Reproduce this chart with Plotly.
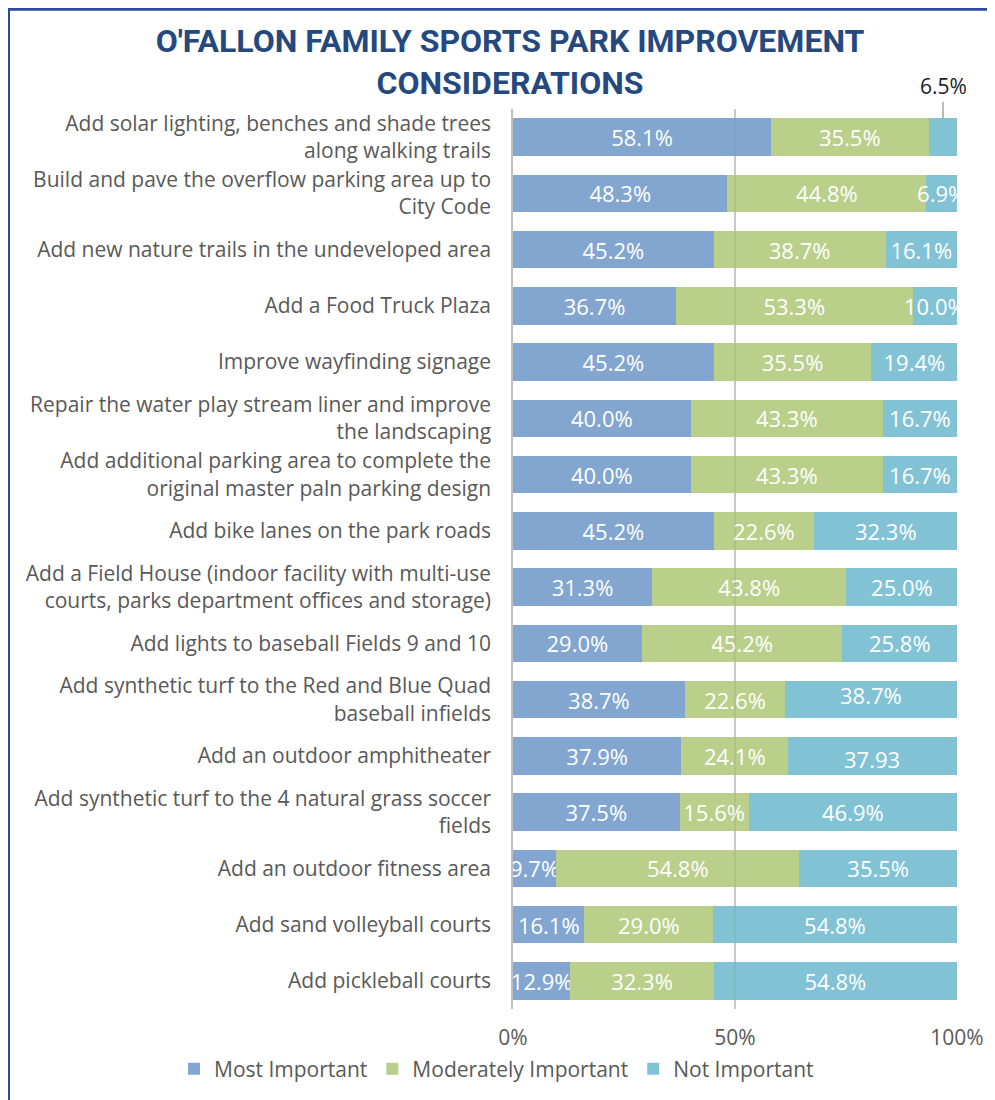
import plotly.graph_objects as go

categories = [
    "Add solar lighting, benches and shade trees<br>along walking trails",
    "Build and pave the overflow parking area up to<br>City Code",
    "Add new nature trails in the undeveloped area",
    "Add a Food Truck Plaza",
    "Improve wayfinding signage",
    "Repair the water play stream liner and improve<br>the landscaping",
    "Add additional parking area to complete the<br>original master paln parking design",
    "Add bike lanes on the park roads",
    "Add a Field House (indoor facility with multi-use<br>courts, parks department offices and storage)",
    "Add lights to baseball Fields 9 and 10",
    "Add synthetic turf to the Red and Blue Quad<br>baseball infields",
    "Add an outdoor amphitheater",
    "Add synthetic turf to the 4 natural grass soccer<br>fields",
    "Add an outdoor fitness area",
    "Add sand volleyball courts",
    "Add pickleball courts",
]
most_important = [58.1, 48.3, 45.2, 36.7, 45.2, 40.0, 40.0, 45.2, 31.3, 29.0, 38.7, 37.9, 37.5, 9.7, 16.1, 12.9]
moderately_important = [35.5, 44.8, 38.7, 53.3, 35.5, 43.3, 43.3, 22.6, 43.8, 45.2, 22.6, 24.1, 15.6, 54.8, 29.0, 32.3]
not_important = [6.5, 6.9, 16.1, 10.0, 19.4, 16.7, 16.7, 32.3, 25.0, 25.8, 38.7, 37.93, 46.9, 35.5, 54.8, 54.8]
series_names = ["Most Important", "Moderately Important", "Not Important"]
tick_vals = [0, 50, 100]
tick_text = ["0%", "50%", "100%"]
title_text = "O'FALLON FAMILY SPORTS PARK IMPROVEMENT<br>CONSIDERATIONS"

colors = ["#82A6CF", "#B9CF8A", "#81C3D5"]
# page body has an 8px margin, so the figure is sized to the visible area
W, H = 987, 1092
ML, MR, MT, MB = 505, 38, 101, 91
FONT = "Open Sans"

def fmt(v):
    s = f"{v:.2f}"
    if s.endswith("0"):
        return f"{v:.1f}%"
    return s

outside_idx = 0
shifted = {10: 5, 11: -3}

fig = go.Figure()
series = [most_important, moderately_important, not_important]
for si, (name, vals, col) in enumerate(zip(series_names, series, colors)):
    texts = [fmt(v) for v in vals]
    if si == 2:
        texts = ["" if (i == outside_idx or i in shifted) else t for i, t in enumerate(texts)]
    fig.add_trace(go.Bar(
        y=categories, x=vals, name=name, orientation="h",
        marker=dict(color=col, line=dict(width=0)),
        text=texts, textposition="inside", insidetextanchor="middle",
        constraintext="none", textangle=0,
        textfont=dict(color="white", size=22, family=FONT),
        hoverinfo="skip",
    ))

cum0 = most_important[outside_idx] + moderately_important[outside_idx]
fig.add_annotation(
    x=cum0 + not_important[outside_idx] / 2, y=categories[outside_idx],
    xref="x", yref="y", text=fmt(not_important[outside_idx]),
    showarrow=True, arrowhead=0, arrowwidth=1.5, arrowcolor="#A6A6A6",
    ax=0, ay=-51, standoff=19,
    font=dict(size=21, color="#222222", family=FONT),
)
for i, dy in shifted.items():
    cum = most_important[i] + moderately_important[i]
    fig.add_annotation(
        x=cum + not_important[i] / 2, y=categories[i], xref="x", yref="y",
        text=fmt(not_important[i]), showarrow=False, yshift=dy,
        font=dict(size=22, color="white", family=FONT),
    )

fig.add_shape(type="line", xref="x", yref="paper", x0=50, x1=50, y0=0, y1=1,
              line=dict(color="rgba(140,140,140,0.25)", width=1.5), layer="above")

pw, ph = W - ML - MR, H - MT - MB
def px2x(px):
    return (px - ML) / pw
def py2y(py):
    return (H - MB - py) / ph
frame_col = "#2E4A9B"
fig.add_shape(type="line", xref="paper", yref="paper", x0=px2x(-2), x1=px2x(W + 5),
              y0=py2y(1.2), y1=py2y(1.2), line=dict(color=frame_col, width=3))
fig.add_shape(type="line", xref="paper", yref="paper", x0=px2x(0.5), x1=px2x(0.5),
              y0=py2y(0), y1=py2y(H + 5), line=dict(color=frame_col, width=3))

fig.update_layout(
    width=W, height=H, barmode="stack", bargap=1/3,
    margin=dict(l=ML, r=MR, t=MT, b=MB, pad=0, autoexpand=False),
    paper_bgcolor="white", plot_bgcolor="white",
    font=dict(family=FONT, color="#595959"),
    title=dict(text=f"<b>{title_text}</b>", xref="container", yref="container",
               x=502 / W, y=1 - 44 / H, xanchor="center", yanchor="middle",
               font=dict(family="Roboto", size=32, color="#25497F")),
    xaxis=dict(range=[0, 100], tickvals=tick_vals, ticktext=tick_text,
               showgrid=True, gridcolor="#D9D9D9", gridwidth=1.5, zeroline=False,
               showline=False, ticks="", ticklabelstandoff=14, automargin=False,
               tickfont=dict(size=21, color="#595959", family=FONT), fixedrange=True),
    yaxis=dict(autorange="reversed", showgrid=False, zeroline=False,
               showline=True, linecolor="#BFBFBF", linewidth=1.5, ticks="",
               ticklabelstandoff=16, automargin=False,
               tickfont=dict(size=21, color="#595959", family=FONT)),
    legend=dict(orientation="h", xref="paper", yref="paper",
                x=px2x(166), y=py2y(1061), xanchor="left", yanchor="middle",
                traceorder="normal", itemwidth=30,
                font=dict(size=21, color="#595959", family=FONT)),
    showlegend=True,
)

fig.write_html("out.html")
